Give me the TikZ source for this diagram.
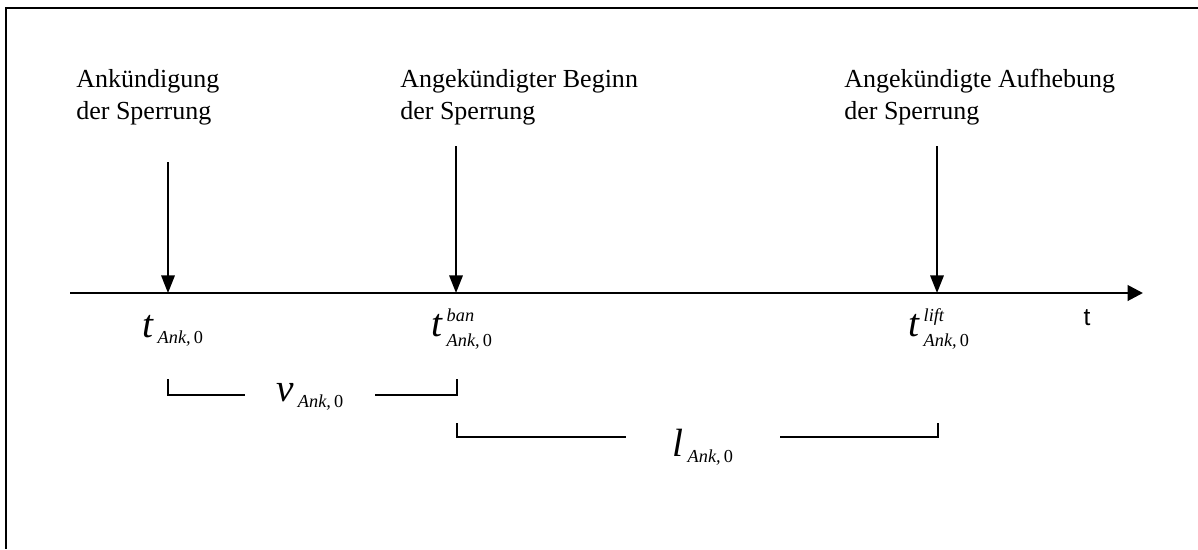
\RequirePackage{fix-cm}
\documentclass[tikz,border=0pt]{standalone}
\usepackage{amsmath}
\usepackage{fontspec}
\setmainfont{Liberation Serif}
\newfontfamily\axisfont{Liberation Sans}
\usetikzlibrary{positioning, arrows.meta}
\DeclareMathSizes{28}{28}{13}{10}
\newcommand{\ankidx}{\text{\itshape Ank,\,\upshape 0}}
\newcommand{\bigsym}[1]{{\mathit{#1}\mkern2mu}}

\begin{document}
\begin{tikzpicture}[x=0.025cm, y=-0.025cm,
        event/.style={anchor=north west, align=left, inner sep=0pt, font=\fontsize{18.5}{22.8}\selectfont},
        stamp/.style={inner sep=0pt, font=\fontsize{28}{30}\selectfont},
        span/.style={inner sep=0pt, fill=white, font=\fontsize{28}{30}\selectfont},
        bracket/.style={line width=1.2pt},
        mark arrow/.style={line width=1.5pt, -{Triangle[length=12.5pt, width=9.5pt]}}]
        \useasboundingbox (0,0) rectangle (1198,549);

        % Rahmen (nur oben und links sichtbar)
        \coordinate (frameTL) at (6,8);
        \coordinate (frameTR) at (1198,8);
        \coordinate (frameBL) at (6,549);
        \draw[line width=1.4pt] (frameTR) -- (frameTL) -- (frameBL);

        % Zeitachse
        \coordinate (axisStart) at (70,293);
        \coordinate (axisEnd) at (1143,293);
        \draw[line width=2pt, -{Triangle[length=11pt, width=11pt]}] (axisStart) -- (axisEnd);
        \node[font=\axisfont\fontsize{17.5}{18}\selectfont] (tLab) at (1087,318) {t};

        % Ereignisse
        \node[event] (annLab) at (76,69) {Ankündigung\\der Sperrung};
        \node[event] (banLab) at (400,69) {Angekündigter Beginn\\der Sperrung};
        \node[event] (liftLab) at (844,69) {Angekündigte Aufhebung\\der Sperrung};

        \coordinate (ankTop) at (168,162);
        \coordinate (banTop) at (456,146);
        \coordinate (liftTop) at (937,146);
        \coordinate (ank) at (168,293);
        \coordinate (ban) at (456,293);
        \coordinate (lift) at (937,293);
        \draw[mark arrow] (ankTop) -- (ank);
        \draw[mark arrow] (banTop) -- (ban);
        \draw[mark arrow] (liftTop) -- (lift);

        % Zeitpunkte
        \node[stamp] (tAnk) at (173,331) {$\bigsym{t}_{\ankidx}$};
        \node[stamp] (tBan) at (462,329) {$\bigsym{t}^{\text{\itshape ban}}_{\ankidx}$};
        \node[stamp] (tLift) at (939,329) {$\bigsym{t}^{\text{\itshape lift}}_{\ankidx}$};

        % Vorlauf v
        \coordinate (vL) at (168,379);
        \coordinate (vR) at (457,379);
        \coordinate (vBase) at (313,395);
        \draw[bracket] (vL) |- (vBase) -| (vR);
        \node[span, minimum width=3.25cm] (vLab) at (310,397) {$\bigsym{v}_{\ankidx}$};

        % Dauer l
        \coordinate (lL) at (457,423);
        \coordinate (lR) at (938,423);
        \coordinate (lBase) at (703,437);
        \draw[bracket] (lL) |- (lBase) -| (lR);
        \node[span, minimum width=3.825cm] (lLab) at (703,447) {$\bigsym{l}_{\ankidx}$};
    \end{tikzpicture}
\end{document}
